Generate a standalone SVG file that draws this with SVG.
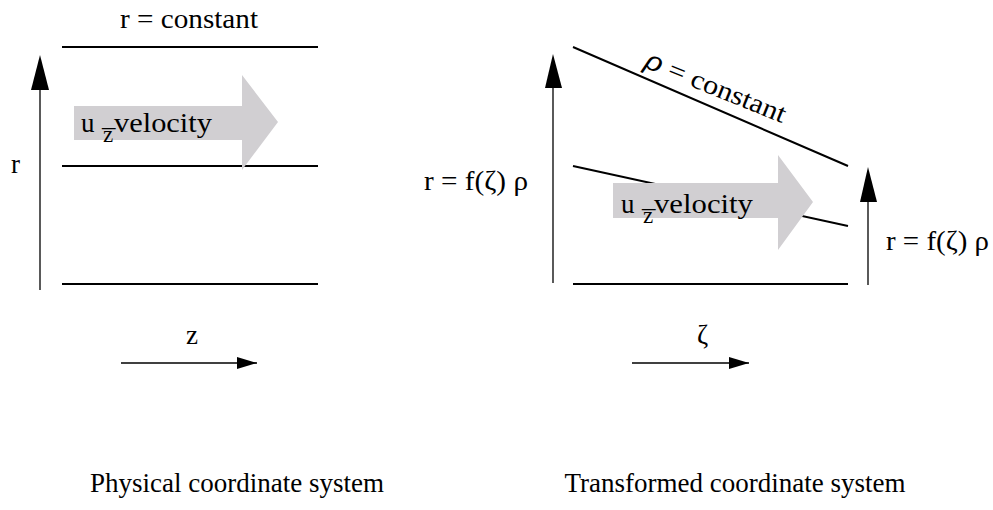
<svg xmlns="http://www.w3.org/2000/svg" width="993" height="510" viewBox="0 0 993 510">
<style>
.t{font-family:"Liberation Serif","Times New Roman",serif;font-size:27px;fill:#000}
.ln{stroke:#000;stroke-width:2;fill:none}
.ax{stroke:#000;stroke-width:1.3;fill:none}
.flow{fill:#d1cfd2}
</style>
<defs>
<marker id="ah" markerUnits="userSpaceOnUse" markerWidth="20" markerHeight="14" refX="20" refY="7" orient="auto" viewBox="0 0 20 14">
<path d="M0,1 L20,7 L0,13 Z" fill="#000"/>
</marker>
</defs>
<rect width="993" height="510" fill="#fff"/>

<g id="left-panel">
<text class="t" x="120" y="28" textLength="138" lengthAdjust="spacingAndGlyphs">r = constant</text>
<line class="ln" x1="62" y1="47" x2="318" y2="47"/>
<line class="ln" x1="62" y1="166" x2="318" y2="166"/>
<line class="ln" x1="62" y1="284" x2="318" y2="284"/>
<text class="t" x="11" y="173">r</text>
<g id="flow-left">
<path class="flow" d="M74,106 H242 V75 L278,122 L242,170 V140 H74 Z"/>
<text class="t" x="81" y="132">u<tspan x="103" dy="10" font-size="23">z</tspan><tspan x="102" dy="-7">–</tspan><tspan x="114" dy="-3" textLength="98" lengthAdjust="spacingAndGlyphs">velocity</tspan></text>
</g>
</g>

<g id="right-panel">
<line class="ln" x1="573" y1="47" x2="848" y2="166"/>
<line class="ln" x1="573" y1="166" x2="848" y2="226"/>
<line class="ln" x1="573" y1="284" x2="848" y2="284"/>
<text class="t" transform="translate(643,67) rotate(22)" textLength="150" lengthAdjust="spacingAndGlyphs"><tspan font-style="italic" font-family="Liberation Sans">ρ</tspan> = constant</text>
<text class="t" x="424" y="190" textLength="104" lengthAdjust="spacingAndGlyphs">r = f(ζ) ρ</text>
<text class="t" x="886" y="250" textLength="103" lengthAdjust="spacingAndGlyphs">r = f(ζ) ρ</text>
<g id="flow-right">
<path class="flow" d="M613,183 H778 V155 L813,202 L778,250 V218 H613 Z"/>
<text class="t" x="621" y="213">u<tspan x="643" dy="10" font-size="23">z</tspan><tspan x="642" dy="-7">–</tspan><tspan x="654" dy="-3" textLength="99" lengthAdjust="spacingAndGlyphs">velocity</tspan></text>
</g>
</g>

<g id="axes">
<line class="ax" x1="40" y1="290" x2="40" y2="88"/>
<path d="M40,55 L31,90 L49,90 Z" fill="#000"/>
<line class="ax" x1="553" y1="283" x2="553" y2="86"/>
<path d="M553,54 L545,88 L562,88 Z" fill="#000"/>
<line class="ax" x1="868" y1="285" x2="868" y2="200"/>
<path d="M868,167 L860,202 L877,202 Z" fill="#000"/>
<line class="ax" x1="121" y1="363" x2="257" y2="363" marker-end="url(#ah)"/>
<line class="ax" x1="632" y1="363" x2="749" y2="363" marker-end="url(#ah)"/>
</g>

<text class="t" x="186" y="344">z</text>
<text class="t" x="697" y="344">ζ</text>

<text class="t" x="237" y="492" text-anchor="middle" font-size="26">Physical coordinate system</text>
<text class="t" x="735" y="492" text-anchor="middle" font-size="26">Transformed coordinate system</text>
</svg>
